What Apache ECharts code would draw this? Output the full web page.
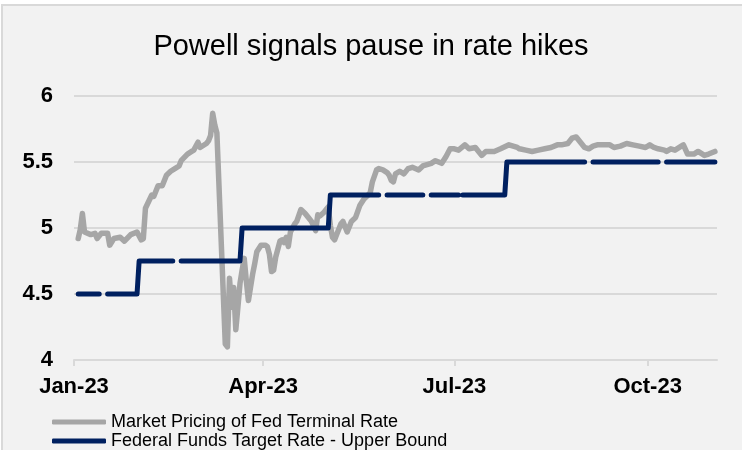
<!DOCTYPE html>
<html>
<head>
<meta charset="utf-8">
<script src="https://cdn.jsdelivr.net/npm/echarts@6/dist/echarts.min.js"></script>
<style>
  html, body { margin: 0; padding: 0; background: #ffffff; }
  #chart { width: 742px; height: 450px; }
</style>
</head>
<body>
<div id="chart"></div>
<script>
var xTickDates = ['2023-01-01', '2023-04-01', '2023-07-01', '2023-10-01'];
var xTickLabels = ['Jan-23', 'Apr-23', 'Jul-23', 'Oct-23'];

// Market Pricing of Fed Terminal Rate
var marketDates = [
    '2023-01-03','2023-01-04','2023-01-05','2023-01-06','2023-01-09','2023-01-11','2023-01-12','2023-01-14',
    '2023-01-17','2023-01-18','2023-01-20','2023-01-23','2023-01-25','2023-01-28','2023-01-31',
    '2023-02-02','2023-02-03','2023-02-04','2023-02-07','2023-02-08','2023-02-10','2023-02-12','2023-02-14',
    '2023-02-16','2023-02-18','2023-02-20','2023-02-21','2023-02-24','2023-02-26','2023-02-27',
    '2023-03-01','2023-03-02','2023-03-05','2023-03-06','2023-03-07','2023-03-08','2023-03-09','2023-03-10',
    '2023-03-14','2023-03-15','2023-03-16','2023-03-17','2023-03-18','2023-03-19','2023-03-20','2023-03-21',
    '2023-03-22','2023-03-23','2023-03-24','2023-03-25','2023-03-27','2023-03-28','2023-03-29','2023-03-31',
    '2023-04-02','2023-04-03','2023-04-04','2023-04-05','2023-04-06','2023-04-07','2023-04-09','2023-04-10',
    '2023-04-11','2023-04-12','2023-04-13','2023-04-14','2023-04-16','2023-04-17','2023-04-19','2023-04-21',
    '2023-04-23','2023-04-24','2023-04-26','2023-04-27','2023-04-28','2023-04-30',
    '2023-05-01','2023-05-02','2023-05-03','2023-05-04','2023-05-05','2023-05-06','2023-05-07','2023-05-08',
    '2023-05-09','2023-05-11','2023-05-13','2023-05-15','2023-05-17','2023-05-19','2023-05-21','2023-05-22',
    '2023-05-23','2023-05-25','2023-05-26','2023-05-28','2023-05-30','2023-05-31',
    '2023-06-01','2023-06-02','2023-06-03','2023-06-05','2023-06-07','2023-06-09','2023-06-11','2023-06-14',
    '2023-06-16','2023-06-18','2023-06-20','2023-06-22','2023-06-25','2023-06-27','2023-06-29',
    '2023-07-01','2023-07-03','2023-07-06','2023-07-08','2023-07-11','2023-07-14','2023-07-16','2023-07-20',
    '2023-07-23','2023-07-27','2023-07-31',
    '2023-08-01','2023-08-04','2023-08-07','2023-08-10','2023-08-13','2023-08-16','2023-08-19','2023-08-21',
    '2023-08-24','2023-08-26','2023-08-28','2023-08-30',
    '2023-09-01','2023-09-03','2023-09-05','2023-09-07','2023-09-10','2023-09-13','2023-09-15','2023-09-18',
    '2023-09-21','2023-09-24','2023-09-27','2023-09-30',
    '2023-10-02','2023-10-04','2023-10-06','2023-10-09','2023-10-10','2023-10-12','2023-10-14','2023-10-17',
    '2023-10-18','2023-10-20','2023-10-23','2023-10-25','2023-10-28','2023-10-30','2023-11-02'
];
var marketRate = [
    4.92, 4.99, 5.11, 4.97, 4.95, 4.96, 4.92, 4.96,
    4.96, 4.87, 4.92, 4.93, 4.90, 4.95, 4.97,
    4.91, 4.92, 5.15, 5.25, 5.24, 5.32, 5.32, 5.40,
    5.43, 5.45, 5.47, 5.51, 5.56, 5.58, 5.59,
    5.65, 5.61, 5.64, 5.66, 5.70, 5.87, 5.78, 5.72,
    4.12, 4.10, 4.62, 4.40, 4.55, 4.23, 4.40, 4.58,
    4.68, 4.77, 4.60, 4.45, 4.65, 4.73, 4.82, 4.87,
    4.87, 4.86, 4.80, 4.67, 4.68, 4.78, 4.90, 4.91,
    4.89, 4.93, 4.86, 4.97, 5.03, 5.05, 5.14, 5.11,
    5.07, 5.05, 4.98, 5.10, 5.09, 5.12,
    5.14, 5.16, 5.02, 4.93, 4.91, 4.95, 4.99, 5.03,
    5.05, 4.97, 5.05, 5.08, 5.17, 5.22, 5.25, 5.27,
    5.35, 5.44, 5.45, 5.44, 5.42, 5.40,
    5.36, 5.35, 5.41, 5.43, 5.41, 5.45, 5.46, 5.44,
    5.47, 5.48, 5.49, 5.51, 5.49, 5.54, 5.60,
    5.60, 5.59, 5.63, 5.60, 5.61, 5.55, 5.58, 5.58,
    5.60, 5.63, 5.61,
    5.60, 5.59, 5.58, 5.59, 5.60, 5.61, 5.63, 5.63,
    5.64, 5.68, 5.69, 5.65,
    5.61, 5.60, 5.62, 5.63, 5.63, 5.63, 5.61, 5.62,
    5.64, 5.63, 5.62, 5.61,
    5.63, 5.61, 5.60, 5.59, 5.58, 5.60, 5.59, 5.62,
    5.63, 5.56, 5.56, 5.58, 5.55, 5.56, 5.58
];

// Federal Funds Target Rate - Upper Bound (null = market holiday, line breaks)
var fedDates = [
    '2023-01-03','2023-01-13','2023-01-16','2023-01-17','2023-01-31',
    '2023-02-01','2023-02-17','2023-02-20','2023-02-21','2023-03-21',
    '2023-03-22','2023-05-02',
    '2023-05-03','2023-05-26','2023-05-29','2023-05-30','2023-06-16','2023-06-19','2023-06-20',
    '2023-07-03','2023-07-04','2023-07-05','2023-07-25',
    '2023-07-26','2023-09-01','2023-09-04','2023-09-05','2023-10-06','2023-10-09','2023-10-10','2023-11-02'
];
var fedUpper = [
    4.5, 4.5, null, 4.5, 4.5,
    4.75, 4.75, null, 4.75, 4.75,
    5.0, 5.0,
    5.25, 5.25, null, 5.25, 5.25, null, 5.25,
    5.25, null, 5.25, 5.25,
    5.5, 5.5, null, 5.5, 5.5, null, 5.5, 5.5
];

function ts(d) {
    return Date.UTC(+d.slice(0, 4), +d.slice(5, 7) - 1, +d.slice(8, 10));
}
function zip(a, b) {
    var out = [];
    for (var i = 0; i < a.length; i++) out.push([ts(a[i]), b[i]]);
    return out;
}

var tickValues = xTickDates.map(ts);
var font = '"Liberation Sans", Arial, sans-serif';
var myChart = echarts.init(document.getElementById('chart'));

var option = {
    backgroundColor: '#ffffff',
    animation: false,
    textStyle: { fontFamily: font },
    graphic: [{
        type: 'rect',
        z: -10,
        shape: { x: 2, y: 5, width: 800, height: 500 },
        style: { fill: '#f2f2f2', stroke: '#d9d9d9', lineWidth: 2 }
    }],
    title: {
        text: 'Powell signals pause in rate hikes',
        left: 'center',
        top: 27,
        textStyle: { fontFamily: font, fontSize: 29, fontWeight: 'normal', color: '#000000' }
    },
    legend: {
        orient: 'vertical',
        left: 52,
        top: 413,
        height: 60,
        itemWidth: 54,
        itemHeight: 5,
        itemGap: 1,
        padding: 0,
        icon: 'roundRect',
        textStyle: { fontFamily: font, fontSize: 18, color: '#000000' },
        data: ['Market Pricing of Fed Terminal Rate', 'Federal Funds Target Rate - Upper Bound']
    },
    grid: {
        left: 74,
        right: 25,
        top: 96,
        bottom: 90,
        outerBoundsMode: 'none'
    },
    xAxis: {
        type: 'value',
        min: ts('2023-01-01'),
        max: ts('2023-11-03'),
        axisLine: { lineStyle: { color: '#d9d9d9', width: 2 } },
        axisTick: {
            show: true,
            length: 6,
            customValues: tickValues,
            lineStyle: { color: '#d9d9d9', width: 2 }
        },
        axisLabel: {
            customValues: tickValues,
            formatter: function (v) {
                var i = tickValues.indexOf(v);
                return i >= 0 ? xTickLabels[i] : '';
            },
            margin: 16,
            fontFamily: font,
            fontSize: 22,
            fontWeight: 'bold',
            color: '#000000'
        },
        splitLine: { show: false }
    },
    yAxis: {
        type: 'value',
        min: 4,
        max: 6,
        interval: 0.5,
        axisLine: { show: false },
        axisTick: { show: false },
        axisLabel: {
            margin: 21,
            fontFamily: font,
            fontSize: 22,
            fontWeight: 'bold',
            color: '#000000'
        },
        splitLine: { lineStyle: { color: '#d9d9d9', width: 2 } }
    },
    series: [
        {
            name: 'Market Pricing of Fed Terminal Rate',
            type: 'line',
            showSymbol: false,
            color: '#a6a6a6',
            lineStyle: { width: 5.5, color: '#a6a6a6', cap: 'round', join: 'round' },
            data: zip(marketDates, marketRate)
        },
        {
            name: 'Federal Funds Target Rate - Upper Bound',
            type: 'line',
            showSymbol: false,
            color: '#002060',
            lineStyle: { width: 5, color: '#002060', cap: 'round', join: 'round' },
            data: zip(fedDates, fedUpper)
        }
    ]
};

myChart.setOption(option);
window.addEventListener('resize', function () {
    myChart.resize();
});
</script>
</body>
</html>
